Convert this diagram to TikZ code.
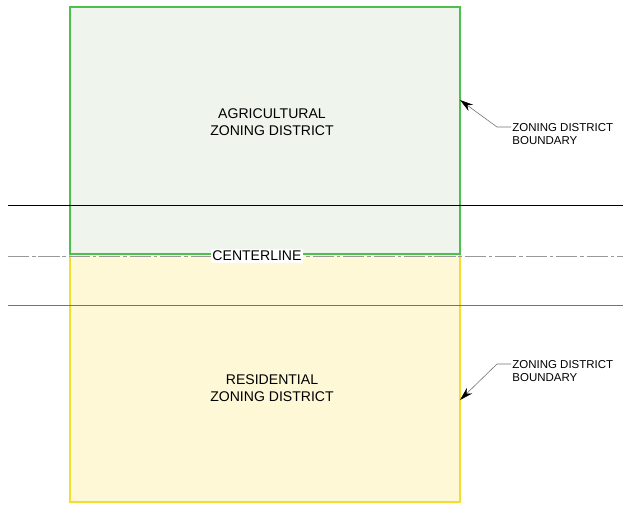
\documentclass[tikz,border=0pt]{standalone}
\usepackage{fontspec}
\setmainfont{Liberation Sans}
\usetikzlibrary{arrows.meta,positioning,calc}
\definecolor{agrifill}{HTML}{EFF5EC}
\definecolor{agriline}{HTML}{4CBF4C}
\definecolor{resifill}{HTML}{FEF8D6}
\definecolor{resiline}{HTML}{F2DE2E}

\begin{document}
\begin{tikzpicture}[x=.03cm,y=-.03cm,font=\fontsize{12}{14.5}\selectfont,
 ar/.style={-{Stealth[length=4mm,width=2.3mm,black]},line width=.5pt,black!55},
 lab/.style={align=center,inner sep=1pt},
 note/.style={font=\fontsize{9.8}{11.5}\selectfont,align=left,anchor=west,inner sep=1pt}]
\useasboundingbox (0,0) rectangle (623,504);
% zoning districts
\fill[resifill] (70,254) rectangle (460,502);
\draw[resiline,line width=1pt] (70,254) -- (70,502) -- (460,502) -- (460,254);
\filldraw[fill=agrifill,draw=agriline,line width=.9pt] (70,7) rectangle (460,254);
% road edges and centerline
\draw[black,line width=.6pt] (8,205) -- (623,205);
\draw[black!55,line width=.7pt] (8,305) -- (623,305);
\draw[black!40,line width=.6pt,dash pattern=on 18pt off 2.5pt on 3pt off 2.5pt] (8,256) -- (623,256);
\node[fill=white,inner sep=1.5pt] (cl) at (257,256) {CENTERLINE};
\node[lab] (agri) at (272,122) {AGRICULTURAL\\ZONING DISTRICT};
\node[lab] (resi) at (272,388) {RESIDENTIAL\\ZONING DISTRICT};
% boundary leaders
\node[note] (bnda) at (511,134) {ZONING DISTRICT\\BOUNDARY};
\node[note] (bndr) at (511,371) {ZONING DISTRICT\\BOUNDARY};
\coordinate (tipa) at (460,100);
\coordinate (tipr) at (460,400);
\draw[ar] (bnda.west |- 0,127) -- (497,127) -- (tipa);
\draw[ar] (bndr.west |- 0,364) -- (497,364) -- (tipr);
\end{tikzpicture}
\end{document}
